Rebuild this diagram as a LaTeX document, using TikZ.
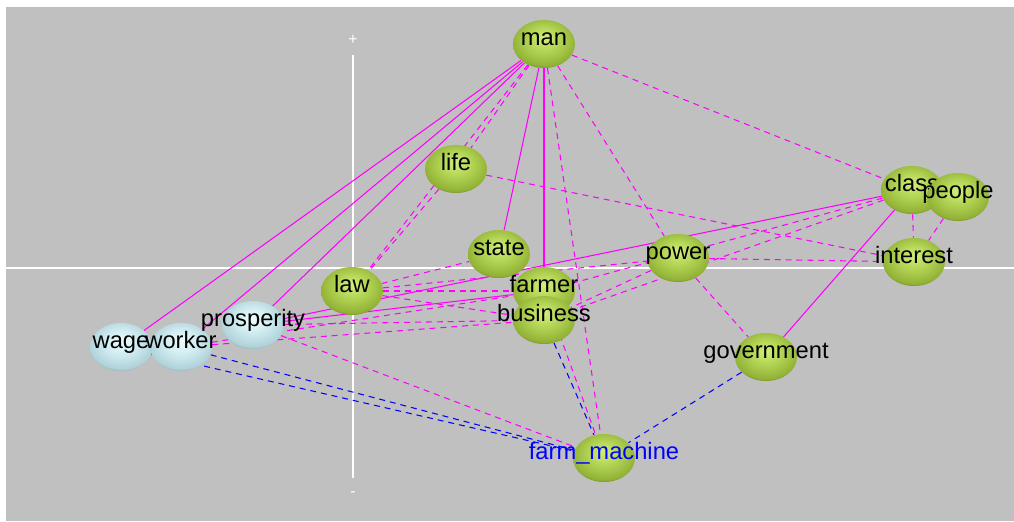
\documentclass[tikz,border=0pt]{standalone}
\usepackage{fontspec}
\setmainfont{Liberation Sans}
\usetikzlibrary{shapes.geometric,backgrounds}
\usepackage{xcolor}
\definecolor{canvasgrey}{RGB}{192,192,192}
\definecolor{linkpink}{RGB}{255,0,255}
\definecolor{linkblue}{RGB}{0,0,255}
\definecolor{leafhi}{RGB}{212,238,124}
\definecolor{leafmid}{RGB}{180,214,86}
\definecolor{leaflo}{RGB}{146,178,54}
\definecolor{leafedge}{RGB}{92,112,38}
\definecolor{icehi}{RGB}{238,252,253}
\definecolor{icemid}{RGB}{210,238,242}
\definecolor{icelo}{RGB}{176,210,218}
\definecolor{iceedge}{RGB}{118,146,152}
\pgfdeclareradialshading{leafball}{\pgfpoint{0bp}{7bp}}{color(0bp)=(leafhi);
  color(12bp)=(leafmid); color(26bp)=(leaflo); color(31bp)=(leafedge);
  color(50bp)=(leafedge)}
\pgfdeclareradialshading{iceball}{\pgfpoint{0bp}{7bp}}{color(0bp)=(icehi);
  color(12bp)=(icemid); color(26bp)=(icelo); color(31bp)=(iceedge);
  color(50bp)=(iceedge)}
\newcommand{\word}[1]{\makebox[0pt]{#1}}
\tikzset{
  concept/.style={ellipse,minimum width=1.24cm,minimum height=0.96cm,inner sep=0pt,
    shading=leafball,text height=1.2pt,text depth=0pt,
    font=\fontsize{13.5}{15}\selectfont},
  human/.style={concept,shading=iceball},
  link/.style={draw=linkpink,line width=.6pt},
  weaklink/.style={link,dash pattern=on 3.4pt off 2.8pt},
  machlink/.style={draw=linkblue,line width=.6pt,dash pattern=on 3.4pt off 2.8pt},
  axisline/.style={draw=white,line width=1.1pt},
  tick/.style={text=white,inner sep=0pt,font=\fontsize{9}{9}\selectfont},
}
\begin{document}
\begin{tikzpicture}[x=0.02cm,y=-0.02cm]
  \useasboundingbox (0,0) rectangle (1014,521);
  \begin{scope}[on background layer]
    \fill[white] (0,0) rectangle (1014,521);
    \fill[canvasgrey] (6,7) rectangle (1014,521);
    \draw[axisline] (353,55) -- (353,478);
    \draw[axisline] (6,268) -- (1014,268);
  \end{scope}
  \node[tick] (plus) at (353,40) {+};
  \node[tick] (minus) at (353,494) {-};
  % concepts
  \node[concept] (man)      at (544,44)  {\word{man}};
  \node[concept] (life)     at (456,169) {\word{life}};
  \node[concept] (state)    at (499,254) {\word{state}};
  \node[concept] (law)      at (352,291) {\word{law}};
  \node[concept] (farmer)   at (544,291) {\word{farmer}};
  \node[concept] (business) at (544,320) {\word{business}};
  \node[concept] (power)    at (678,258) {\word{power}};
  \node[concept] (class)    at (912,190) {\word{class}};
  \node[concept] (people)   at (958,197) {\word{people}};
  \node[concept] (interest) at (914,262) {\word{interest}};
  \node[concept] (government) at (766,357) {\word{government}};
  \node[concept,text=linkblue] (fmach) at (604,458) {\word{farm\_machine}};
  \node[human] (wage)       at (121,347) {\word{wage}};
  \node[human] (worker)     at (181,347) {\word{worker}};
  \node[human] (prosperity) at (253,325) {\word{prosperity}};
  % links
  \begin{scope}[on background layer]
    \foreach \a/\b in {man/wage,man/worker,man/prosperity,man/state,man/farmer,
      prosperity/class,prosperity/farmer,class/government}
      {\draw[link] (\a) -- (\b);}
    \foreach \a/\b in {man/life,man/law,man/power,man/class,man/fmach,life/law,
      life/interest,law/state,law/farmer,law/business,law/power,
      prosperity/business,prosperity/fmach,worker/farmer,worker/business,
      power/interest,power/government,power/business,class/business,
      class/farmer,class/interest,people/interest,farmer/fmach}
      {\draw[weaklink] (\a) -- (\b);}
    \foreach \a in {wage,worker,business,government}
      {\draw[machlink] (\a) -- (fmach);}
  \end{scope}
\end{tikzpicture}
\end{document}
